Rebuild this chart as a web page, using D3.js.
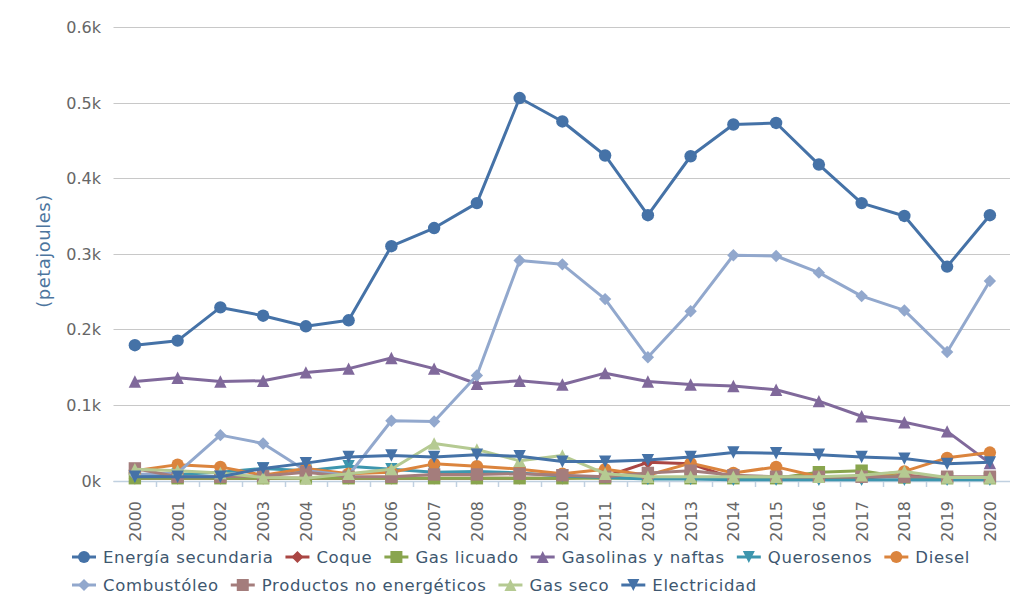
<!DOCTYPE html>
<html>
<head>
<meta charset="utf-8">
<script src="https://cdn.jsdelivr.net/npm/d3@7"></script>
<style>
  body { margin: 0; background: #fff; }
  svg { display: block; font-family: "DejaVu Sans", sans-serif; }
</style>
</head>
<body>
<svg id="chart" width="1010" height="595"></svg>
<script>
// años (categorías)
var years = ["2000","2001","2002","2003","2004","2005","2006","2007","2008","2009","2010",
             "2011","2012","2013","2014","2015","2016","2017","2018","2019","2020"];

var yTicks = [0, 100, 200, 300, 400, 500, 600];

// valores en petajoules
var energiaSecundaria = [179,185,229,218,204,212,310,334,367,506,475,430,351,429,471,473,418,367,350,283,351];
var coque             = [3,3,3,3,3,3,3,3,3,3,3,5,24,22,3,3,3,3,7,3,3];
var gasLicuado        = [3,3,3,3,3,3,3,3,3,3,3,3,3,3,3,3,11,13,4,3,3];
var gasolinas         = [131,136,131,132,143,148,162,148,128,132,127,142,131,127,125,120,105,85,77,65,23];
var querosenos        = [6,8,11,16,13,19,15,11,12,10,6,4,2,2,1,1,1,1,1,1,1];
var diesel            = [13,21,18,7,16,9,11,22,19,15,9,15,7,23,10,18,5,5,12,30,37];
var combustoleo       = [8,10,60,49,13,7,79,78,139,291,286,240,163,224,298,297,275,244,225,170,264];
var productosNoEnerg  = [16,5,5,6,11,5,5,8,8,9,7,5,10,13,7,5,5,5,5,5,5];
var gasSeco           = [15,13,10,4,3,9,15,49,41,26,33,9,5,5,5,5,5,7,12,4,4];
var electricidad      = [5,5,5,16,23,31,33,31,34,32,25,25,27,31,37,36,34,31,29,22,24];

var seriesNames = ["Energía secundaria","Coque","Gas licuado","Gasolinas y naftas","Querosenos",
                   "Diesel","Combustóleo","Productos no energéticos","Gas seco","Electricidad"];
var seriesData = [energiaSecundaria, coque, gasLicuado, gasolinas, querosenos,
                  diesel, combustoleo, productosNoEnerg, gasSeco, electricidad];
var colors = ["#4572A7","#AA4643","#89A54E","#80699B","#3D96AE","#DB843D","#92A8CD","#A47D7C","#B5CA92","#4572A7"];
var symbols = ["circle","diamond","square","triangle","triangle-down"];

var svg = d3.select("#chart");

var x = d3.scaleBand().domain(years).range([113.5, 1011.25]).padding(0);
var y = d3.scaleLinear().domain([0, 600]).range([480.5, 27]);
function cx(d){ return x(d) + x.bandwidth() / 2; }

// grid
svg.append("g").selectAll("line")
    .data(yTicks)
    .enter().append("line")
    .attr("x1", 113.5).attr("x2", 1010)
    .attr("y1", function(d){ return Math.round(y(d)) + 0.5; })
    .attr("y2", function(d){ return Math.round(y(d)) + 0.5; })
    .attr("stroke", "#C8C8C8").attr("stroke-width", 1);

// y labels
svg.append("g").selectAll("text")
    .data(yTicks)
    .enter().append("text")
    .attr("x", 101)
    .attr("y", function(d){ return y(d) + 6; })
    .attr("text-anchor", "end")
    .attr("fill", "#666")
    .style("font-size", "16px")
    .text(function(d){ return (d / 1000) + "k"; });

// y title
svg.append("text")
    .attr("transform", "translate(50,251) rotate(-90)")
    .attr("text-anchor", "middle")
    .attr("fill", "#4d759e")
    .style("font-size", "18px")
    .style("letter-spacing", "0.5px")
    .text("(petajoules)");

// x axis line + ticks
svg.append("line")
    .attr("x1", 113.5).attr("x2", 1010)
    .attr("y1", 481.5).attr("y2", 481.5)
    .attr("stroke", "#C0D0E0").attr("stroke-width", 1.5);

var bounds = years.slice(1).map(function(d){ return x(d); });
svg.append("g").selectAll("line")
    .data(bounds)
    .enter().append("line")
    .attr("x1", function(d){ return Math.round(d) + 0.5; })
    .attr("x2", function(d){ return Math.round(d) + 0.5; })
    .attr("y1", 481).attr("y2", 487)
    .attr("stroke", "#C0D0E0").attr("stroke-width", 1.5);

svg.append("g").selectAll("text")
    .data(years)
    .enter().append("text")
    .attr("transform", function(d){ return "translate(" + (cx(d) + 6) + ",501) rotate(-90)"; })
    .attr("text-anchor", "end")
    .attr("fill", "#666")
    .style("font-size", "16px")
    .text(function(d){ return d; });

function symbolPath(type, r){
    if (type === "circle") return d3.symbol().type(d3.symbolCircle).size(Math.PI * r * r)();
    if (type === "square") return "M" + (-r) + "," + (-r) + "H" + r + "V" + r + "H" + (-r) + "Z";
    if (type === "diamond") return "M0," + (-r) + "L" + r + ",0L0," + r + "L" + (-r) + ",0Z";
    if (type === "triangle") return "M0," + (-r) + "L" + r + "," + r + "L" + (-r) + "," + r + "Z";
    return "M" + (-r) + "," + (-r) + "L" + r + "," + (-r) + "L0," + r + "Z";
}

var line = d3.line()
    .x(function(d, i){ return cx(years[i]); })
    .y(function(d){ return y(d); });

// series
seriesData.forEach(function(vals, s){
    var g = svg.append("g");
    g.append("path")
        .attr("d", line(vals))
        .attr("fill", "none")
        .attr("stroke", colors[s])
        .attr("stroke-width", 3)
        .attr("stroke-linejoin", "round");
    g.selectAll("path.pt")
        .data(vals)
        .enter().append("path")
        .attr("class", "pt")
        .attr("transform", function(d, i){ return "translate(" + cx(years[i]) + "," + y(d) + ")"; })
        .attr("d", symbolPath(symbols[s % 5], 6.2))
        .attr("fill", colors[s]);
});

// legend
var rows = [[0,1,2,3,4,5],[6,7,8,9]];
var rowY = [557, 585];
rows.forEach(function(row, r){
    var lx = 72;
    row.forEach(function(s){
        var g = svg.append("g").attr("transform", "translate(" + lx + "," + rowY[r] + ")");
        g.append("line").attr("x1", 0).attr("x2", 24).attr("y1", 0).attr("y2", 0)
            .attr("stroke", colors[s]).attr("stroke-width", 3);
        g.append("path").attr("transform", "translate(12,0)")
            .attr("d", symbolPath(symbols[s % 5], 6)).attr("fill", colors[s]);
        var t = g.append("text")
            .attr("x", 31).attr("y", 6)
            .attr("fill", "#3E576F")
            .style("font-size", "16.5px")
            .style("letter-spacing", "0.65px")
            .text(seriesNames[s]);
        lx += 31 + t.node().getComputedTextLength() + 12;
    });
});
</script>
</body>
</html>
